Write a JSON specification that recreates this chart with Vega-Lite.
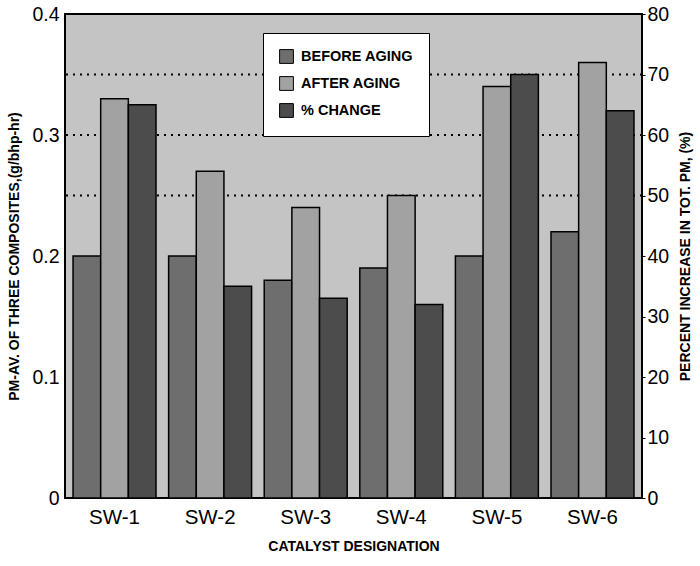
{
  "$schema": "https://vega.github.io/schema/vega-lite/v6.json",
  "width": 577,
  "height": 484,
  "autosize": {"type": "none"},
  "padding": {"left": 65, "top": 14, "right": 58, "bottom": 68},
  "background": "white",
  "config": {
    "font": "Liberation Sans",
    "view": {"fill": "#c4c4c4", "stroke": "black", "strokeWidth": 2},
    "axis": {"domain": false, "grid": false, "labelColor": "black", "titleColor": "black"},
    "legend": {"strokeColor": "black", "fillColor": "white"}
  },
  "data": {
    "values": [
      {"cat": "SW-1", "series": "BEFORE AGING", "value": 0.20},
      {"cat": "SW-1", "series": "AFTER AGING", "value": 0.33},
      {"cat": "SW-1", "series": "% CHANGE", "value": 65},
      {"cat": "SW-2", "series": "BEFORE AGING", "value": 0.20},
      {"cat": "SW-2", "series": "AFTER AGING", "value": 0.27},
      {"cat": "SW-2", "series": "% CHANGE", "value": 35},
      {"cat": "SW-3", "series": "BEFORE AGING", "value": 0.18},
      {"cat": "SW-3", "series": "AFTER AGING", "value": 0.24},
      {"cat": "SW-3", "series": "% CHANGE", "value": 33},
      {"cat": "SW-4", "series": "BEFORE AGING", "value": 0.19},
      {"cat": "SW-4", "series": "AFTER AGING", "value": 0.25},
      {"cat": "SW-4", "series": "% CHANGE", "value": 32},
      {"cat": "SW-5", "series": "BEFORE AGING", "value": 0.20},
      {"cat": "SW-5", "series": "AFTER AGING", "value": 0.34},
      {"cat": "SW-5", "series": "% CHANGE", "value": 70},
      {"cat": "SW-6", "series": "BEFORE AGING", "value": 0.22},
      {"cat": "SW-6", "series": "AFTER AGING", "value": 0.36},
      {"cat": "SW-6", "series": "% CHANGE", "value": 64}
    ]
  },
  "layer": [
    {
      "data": {"values": [{"g": 0.25}, {"g": 0.3}, {"g": 0.35}]},
      "mark": {"type": "rule", "strokeDash": [2, 5], "strokeWidth": 2, "color": "black"},
      "encoding": {
        "y": {"field": "g", "type": "quantitative", "scale": {"domain": [0, 0.4]}, "axis": null}
      }
    },
    {
      "transform": [{"filter": "datum.series !== '% CHANGE'"}],
      "mark": {"type": "bar", "stroke": "black", "strokeWidth": 1.5},
      "encoding": {
        "x": {
          "field": "cat", "type": "nominal",
          "scale": {"paddingInner": 0.132, "paddingOuter": 0.084},
          "axis": {"labelAngle": 0, "labelFontSize": 20.5, "labelPadding": 9, "ticks": false,
                   "title": "CATALYST DESIGNATION", "titleFontSize": 14, "titleFontWeight": "bold", "titlePadding": 12}
        },
        "xOffset": {"field": "series", "type": "nominal",
                    "scale": {"domain": ["BEFORE AGING", "AFTER AGING", "% CHANGE"], "padding": 0}},
        "y": {
          "field": "value", "type": "quantitative",
          "scale": {"domain": [0, 0.4]},
          "axis": {"orient": "left", "values": [0, 0.1, 0.2, 0.3, 0.4], "format": ".1~f",
                   "labelFontSize": 19.5, "labelPadding": 6, "ticks": false,
                   "title": "PM-AV. OF THREE COMPOSITES,(g/bhp-hr)", "titleFontSize": 14,
                   "titleFontWeight": "bold", "titlePadding": 10}
        },
        "fill": {
          "field": "series", "type": "nominal",
          "scale": {"domain": ["BEFORE AGING", "AFTER AGING", "% CHANGE"], "range": ["#6e6e6e", "#a2a2a2", "#4c4c4c"]},
          "legend": {
            "orient": "none", "legendX": 198, "legendY": 19, "direction": "vertical", "title": null,
            "padding": 16,
            "rowPadding": 8, "symbolType": "square", "symbolSize": 190, "symbolStrokeColor": "black",
            "symbolStrokeWidth": 1, "labelFontSize": 14.5, "labelFontWeight": "bold", "labelColor": "black",
            "labelOffset": 7
          }
        }
      }
    },
    {
      "transform": [{"filter": "datum.series === '% CHANGE'"}],
      "mark": {"type": "bar", "stroke": "black", "strokeWidth": 1.5},
      "encoding": {
        "x": {"field": "cat", "type": "nominal", "scale": {"paddingInner": 0.132, "paddingOuter": 0.084}},
        "xOffset": {"field": "series", "type": "nominal",
                    "scale": {"domain": ["BEFORE AGING", "AFTER AGING", "% CHANGE"], "padding": 0}},
        "y": {
          "field": "value", "type": "quantitative",
          "scale": {"domain": [0, 80]},
          "axis": {"orient": "right", "values": [0, 10, 20, 30, 40, 50, 60, 70, 80],
                   "labelFontSize": 19.5, "labelPadding": 2, "ticks": true, "tickSize": 3, "tickColor": "black",
                   "title": "PERCENT INCREASE IN TOT. PM, (%)", "titleFontSize": 14, "titleFontWeight": "bold",
                   "titleAngle": -90, "titlePadding": 24}
        },
        "fill": {
          "field": "series", "type": "nominal",
          "scale": {"domain": ["BEFORE AGING", "AFTER AGING", "% CHANGE"], "range": ["#6e6e6e", "#a2a2a2", "#4c4c4c"]}
        }
      }
    }
  ],
  "resolve": {"scale": {"y": "independent"}}
}
